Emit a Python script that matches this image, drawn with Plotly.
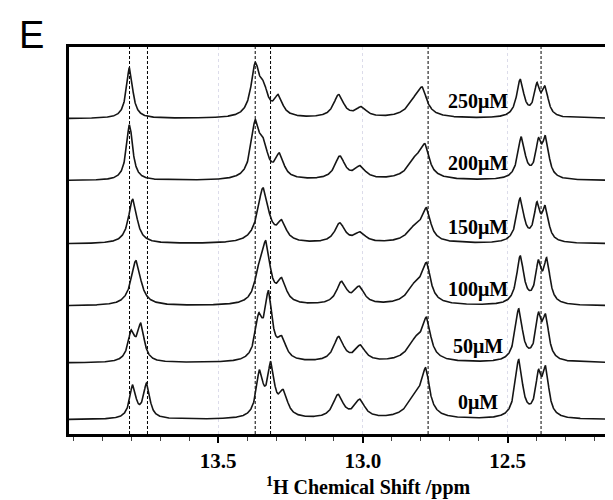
import numpy as np
import plotly.graph_objects as go

# ---------------- data ----------------
concentrations = ["0μM", "50μM", "100μM", "150μM", "200μM", "250μM"]
offsets = [0.0, 0.942, 1.889, 2.92, 3.97, 5.0]

# peak centres (ppm), apparent heights, widths (FWHM, ppm) per spectrum
pos_0 = [13.795, 13.747, 13.357, 13.318, 13.275, 13.086, 13.011, 12.815, 12.783, 12.462, 12.394, 12.369]
hgt_0 = [0.58, 0.61, 0.83, 0.97, 0.50, 0.42, 0.34, 0.50, 0.86, 1.00, 0.83, 0.89]
wid_0 = [0.026, 0.026, 0.028, 0.028, 0.035, 0.042, 0.042, 0.07, 0.03, 0.03, 0.024, 0.026]

pos_50 = [13.80, 13.767, 13.36, 13.326, 13.28, 13.084, 13.009, 12.815, 12.78, 12.462, 12.394, 12.369]
hgt_50 = [0.55, 0.66, 0.83, 1.20, 0.45, 0.44, 0.30, 0.46, 0.76, 0.90, 0.84, 0.81]
wid_50 = [0.028, 0.028, 0.03, 0.03, 0.035, 0.042, 0.042, 0.07, 0.032, 0.03, 0.024, 0.026]

pos_100 = [13.784, 13.36, 13.335, 13.28, 13.074, 13.013, 12.815, 12.78, 12.457, 12.394, 12.365]
hgt_100 = [0.75, 0.70, 1.08, 0.47, 0.41, 0.33, 0.44, 0.72, 0.83, 0.77, 0.80]
wid_100 = [0.04, 0.035, 0.035, 0.035, 0.042, 0.042, 0.07, 0.032, 0.03, 0.024, 0.026]

pos_150 = [13.795, 13.345, 13.28, 13.08, 13.01, 12.815, 12.78, 12.457, 12.399, 12.37]
hgt_150 = [0.74, 0.93, 0.40, 0.35, 0.20, 0.36, 0.60, 0.76, 0.70, 0.64]
wid_150 = [0.035, 0.045, 0.035, 0.042, 0.045, 0.07, 0.032, 0.03, 0.024, 0.026]

pos_200 = [13.806, 13.372, 13.343, 13.288, 13.08, 13.01, 12.815, 12.785, 12.453, 12.394, 12.369]
hgt_200 = [0.93, 1.01, 0.70, 0.46, 0.41, 0.25, 0.44, 0.61, 0.73, 0.71, 0.75]
wid_200 = [0.026, 0.035, 0.035, 0.035, 0.042, 0.045, 0.07, 0.032, 0.03, 0.024, 0.026]

pos_250 = [13.806, 13.372, 13.343, 13.292, 13.084, 13.006, 12.815, 12.794, 12.457, 12.399, 12.371]
hgt_250 = [0.85, 0.93, 0.62, 0.40, 0.40, 0.20, 0.42, 0.52, 0.65, 0.60, 0.54]
wid_250 = [0.026, 0.035, 0.035, 0.035, 0.042, 0.045, 0.07, 0.032, 0.03, 0.024, 0.026]

# reference (dashed) lines, ppm
ref_lines = [13.806, 13.744, 13.372, 13.319, 12.775, 12.385]

# axis ticks
major_ticks = [13.5, 13.0, 12.5]
major_labels = ["13.5", "13.0", "12.5"]

peaks = [(pos_0, hgt_0, wid_0), (pos_50, hgt_50, wid_50), (pos_100, hgt_100, wid_100),
         (pos_150, hgt_150, wid_150), (pos_200, hgt_200, wid_200), (pos_250, hgt_250, wid_250)]


def lorentz(x, c, w):
    return 1.0 / (1.0 + ((x - c) / (w / 2.0)) ** 2)


def spectrum(x, pos, h, w):
    pos, h, w = np.asarray(pos), np.asarray(h), np.asarray(w)
    A = lorentz(pos[:, None], pos[None, :], w[None, :])
    a = np.clip(np.linalg.solve(A, h), 0, None)
    for _ in range(400):
        a = np.clip(a + 0.5 * (h - A @ a), 0, None)
    return lorentz(x[:, None], pos[None, :], w[None, :]) @ a


x = np.linspace(12.14, 14.02, 2000)

fig = go.Figure()
for (pos, h, w), off, name in zip(peaks, offsets, concentrations):
    fig.add_trace(go.Scatter(x=x, y=off + spectrum(x, pos, h, w), mode="lines",
                             line=dict(color="#151515", width=1.6), name=name,
                             showlegend=False, hoverinfo="skip"))

for v in ref_lines:
    fig.add_shape(type="line", x0=v, x1=v, xref="x", yref="paper", y0=0, y1=1,
                  line=dict(color="black", width=1, dash="3px,2px"), layer="below")

for off, name in zip(offsets, concentrations):
    fig.add_annotation(x=12.604, y=off + 0.28, text="<b>%s</b>" % name, showarrow=False,
                       xanchor="center", yanchor="middle",
                       font=dict(family="Liberation Serif", size=20, color="black"))

fig.add_annotation(xref="paper", yref="paper", x=(362 - 61) / 546, y=-(478 - 426) / 387,
                   text="<b><sup>1</sup>H Chemical Shift /ppm</b>", showarrow=False,
                   xanchor="center", yanchor="middle",
                   font=dict(family="Liberation Serif", size=20, color="black"))

fig.add_annotation(xref="paper", yref="paper", x=(9 - 61) / 546, y=1 + (39 - 27) / 387,
                   text="E", showarrow=False, xanchor="left", yanchor="middle",
                   font=dict(family="Liberation Sans", size=38, color="black"))

fig.update_layout(
    width=613, height=500,
    margin=dict(l=61, r=6, t=39, b=74),
    plot_bgcolor="white", paper_bgcolor="white",
    xaxis=dict(range=[14.015, 12.14], tickvals=major_ticks, ticktext=major_labels,
               ticks="outside", ticklen=6, tickwidth=2, tickcolor="black",
               tickfont=dict(family="Liberation Serif", size=21, color="black", weight="bold"),
               showline=True, linewidth=3, linecolor="black", mirror=True,
               showgrid=True, gridcolor="#dcdcea", griddash="dot", gridwidth=1,
               zeroline=False,
               minor=dict(dtick=0.1, tick0=12.0, ticks="outside", ticklen=4,
                          tickcolor="#444444", tickwidth=1, showgrid=False)),
    yaxis=dict(range=[-0.238, 6.19], showticklabels=False, ticks="", showgrid=False,
               zeroline=False, showline=True, linewidth=3, linecolor="black", mirror=True),
)

fig.write_html("out.html")
